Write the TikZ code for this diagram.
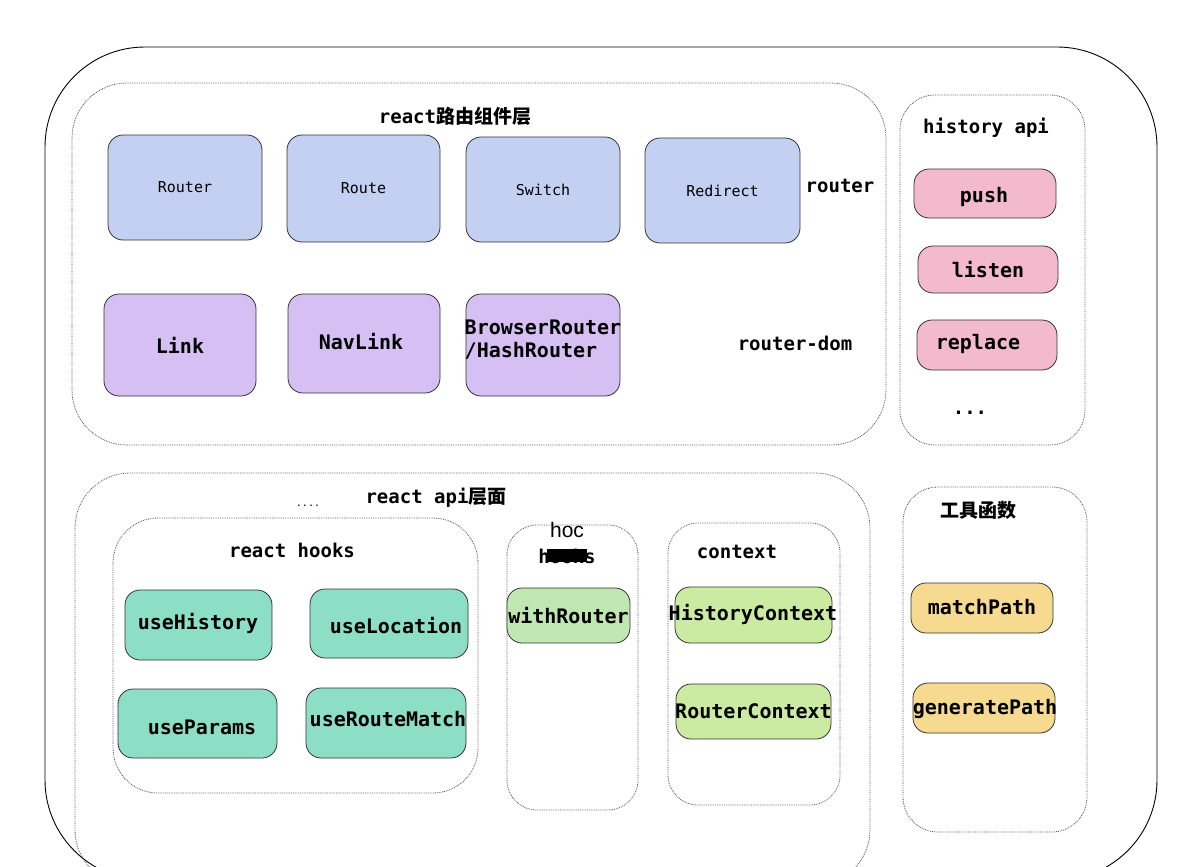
\documentclass[tikz,border=0pt]{standalone}
\usepackage{fontspec}
\setmonofont{DejaVu Sans Mono}
\setmainfont{Liberation Sans}
\newfontfamily\cjk{Noto Sans CJK SC}
\begin{document}
\begin{tikzpicture}[x=1pt,y=-1pt,
 dotbox/.style={draw=black!70,densely dotted,rounded corners=55pt,line width=0.8pt},
 box/.style={draw=black!80,line width=0.8pt,rounded corners=15pt,inner sep=0pt,font=\ttfamily\bfseries\fontsize{20}{23}\selectfont},
 sbox/.style={box,font=\ttfamily\fontsize{15}{17}\selectfont},
 lbl/.style={font=\ttfamily\bfseries\fontsize{19}{21}\selectfont,inner sep=0pt},
 blue/.style={fill={rgb,255:red,196;green,208;blue,242}},
 purp/.style={fill={rgb,255:red,214;green,192;blue,243}},
 pink/.style={fill={rgb,255:red,243;green,186;blue,206}},
 teal/.style={fill={rgb,255:red,140;green,223;blue,196}},
 lgrn/.style={fill={rgb,255:red,192;green,230;blue,178}},
 ygrn/.style={fill={rgb,255:red,203;green,234;blue,162}},
 yell/.style={fill={rgb,255:red,246;green,218;blue,144}}]
\useasboundingbox (0,0) rectangle (1203,867);
\draw[line width=0.9pt,rounded corners=100pt] (45,47) rectangle (1157,880);
\draw[dotbox] (72,83) rectangle (886,445);
\draw[dotbox,rounded corners=35pt] (900,95) rectangle (1085,445);
\draw[dotbox] (75,473) rectangle (870,885);
\draw[dotbox,rounded corners=45pt] (113,518) rectangle (478,793);
\draw[dotbox,rounded corners=30pt] (507,525) rectangle (638,810);
\draw[dotbox,rounded corners=30pt] (668,523) rectangle (840,805);
\draw[dotbox,rounded corners=35pt] (903,487) rectangle (1087,832);
\newcommand\bx[6]{\node[#1,minimum width={#4-#2},minimum height={#5-#3}] (#6) at ({(#2+#4)/2},{(#3+#5)/2}) {};}
\bx{sbox,blue}{108}{135}{262}{240}{n1} \node[font=\ttfamily\fontsize{15}{17}\selectfont] at (n1) {Router};
\bx{sbox,blue}{287}{135}{440}{242}{n2} \node[font=\ttfamily\fontsize{15}{17}\selectfont] at (n2) {Route};
\bx{sbox,blue}{466}{137}{620}{242}{n3} \node[font=\ttfamily\fontsize{15}{17}\selectfont] at (n3) {Switch};
\bx{sbox,blue}{645}{138}{800}{243}{n4} \node[font=\ttfamily\fontsize{15}{17}\selectfont] at (n4) {Redirect};
\bx{box,purp}{104}{294}{256}{396}{n5} \node[box,draw=none] at (n5) {Link};
\bx{box,purp}{288}{294}{440}{393}{n6} \node[box,draw=none] at (361,342) {NavLink};
\bx{box,purp}{466}{294}{620}{396}{n7} \node[box,draw=none,align=left] at (543,340) {BrowserRouter\\/HashRouter};
\bx{box,pink}{914}{169}{1056}{218}{p1} \node[box,draw=none] at (984,197) {push};
\bx{box,pink}{918}{246}{1058}{293}{p2} \node[box,draw=none] at (p2) {listen};
\bx{box,pink}{917}{320}{1057}{370}{p3} \node[box,draw=none] at (978,344) {replace};
\bx{box,teal}{125}{590}{272}{660}{h1} \node[box,draw=none] at (198,623) {useHistory};
\bx{box,teal}{310}{589}{468}{658}{h2} \node[box,draw=none] at (396,626) {useLocation};
\bx{box,teal}{118}{689}{277}{758}{h3} \node[box,draw=none] at (202,727) {useParams};
\bx{box,teal}{306}{688}{466}{758}{h4} \node[box,draw=none] at (388,719) {useRouteMatch};
\bx{box,lgrn}{507}{588}{630}{643}{w1} \node[box,draw=none] at (w1) {withRouter};
\bx{box,ygrn}{675}{587}{832}{643}{c1} \node[box,draw=none] at (753,614) {HistoryContext};
\bx{box,ygrn}{676}{684}{831}{739}{c2} \node[box,draw=none] at (c2) {RouterContext};
\bx{box,yell}{911}{583}{1053}{633}{t1} \node[box,draw=none] at (982,607) {matchPath};
\bx{box,yell}{913}{683}{1055}{733}{t2} \node[box,draw=none] at (985,709) {generatePath};
\node[lbl] (l1) at (455,116) {react{\cjk 路由组件层}};
\node[lbl] (l2) at (840,186) {router};
\node[lbl] (l3) at (795,343) {router-dom};
\node[lbl] (l4) at (986,128) {history api};
\node[lbl] (l5) at (970,413) {...};
\node[lbl] (l6) at (436,498) {react api{\cjk 层面}};
\node[lbl,font=\ttfamily\fontsize{10}{10}\selectfont] (l7) at (308,506) {....};
\node[lbl] (l8) at (292,550) {react hooks};
\node[inner sep=0pt,font=\fontsize{21}{23}\selectfont] (l9) at (567,530) {hoc};
\node[lbl] (l10) at (567,556) {hooks};
\fill[black] (547,549) rectangle (587,562);
\node[lbl] (l11) at (737,552) {context};
\node[inner sep=0pt,font=\cjk\bfseries\fontsize{19}{21}\selectfont] (l12) at (978,510) {工具函数};
\end{tikzpicture}
\end{document}
